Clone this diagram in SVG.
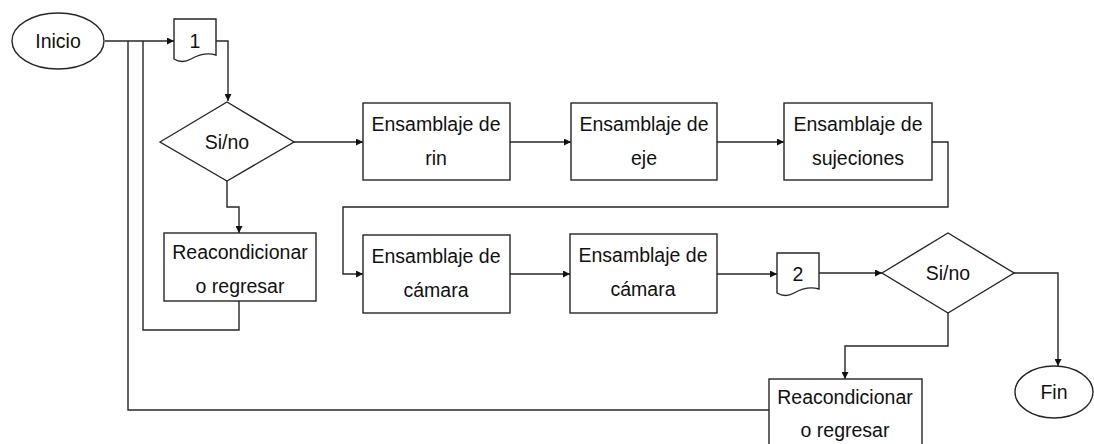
<svg xmlns="http://www.w3.org/2000/svg" width="1094" height="444" viewBox="0 0 1094 444">
<style>
.s{fill:#fff;stroke:#262626;stroke-width:1.4}
.c{fill:none;stroke:#262626;stroke-width:1.4}
.t{font-family:"Liberation Sans",Arial,sans-serif;font-size:19.5px;fill:#111;text-anchor:middle}
</style>
<defs>
<marker id="a" viewBox="0 0 10 10" refX="10" refY="5" markerWidth="7" markerHeight="7" markerUnits="userSpaceOnUse" orient="auto">
<path d="M0,0 L10,5 L0,10 Z" fill="#111"/>
</marker>
</defs>
<rect width="1094" height="444" fill="#fff"/>
<g id="connectors">
<path class="c" d="M105,41 H174" marker-end="url(#a)"/>
<path class="c" d="M128,41 V410 H769"/>
<path class="c" d="M143,41 V330 H239 V301"/>
<path class="c" d="M216,41 H228 V101" marker-end="url(#a)"/>
<path class="c" d="M294,142 H363" marker-end="url(#a)"/>
<path class="c" d="M227,181 V207 H239 V233" marker-end="url(#a)"/>
<path class="c" d="M510,142 H571" marker-end="url(#a)"/>
<path class="c" d="M717,142 H784" marker-end="url(#a)"/>
<path class="c" d="M932,142 H948 V207 H343 V274 H363" marker-end="url(#a)"/>
<path class="c" d="M510,274 H570" marker-end="url(#a)"/>
<path class="c" d="M717,274 H777" marker-end="url(#a)"/>
<path class="c" d="M819,273 H882" marker-end="url(#a)"/>
<path class="c" d="M948,313 V346 H845 V379" marker-end="url(#a)"/>
<path class="c" d="M1014,273 H1058 V366" marker-end="url(#a)"/>
</g>
<g id="inicio"><ellipse class="s" cx="58" cy="41" rx="46" ry="28"/><text class="t" x="58" y="48">Inicio</text></g>
<g id="doc1"><path class="s" d="M174,19 H216 V55 C206,52 198,55 191,59 C184,63 179,62 174,59 Z"/><text class="t" x="195" y="48">1</text></g>
<g id="dec1"><path class="s" d="M160,142 L227,102 L294,142 L227,181 Z"/><text class="t" x="227" y="149">Si/no</text></g>
<g id="reac1"><rect class="s" x="164" y="233" width="152" height="68"/><text class="t" x="240" y="259">Reacondicionar</text><text class="t" x="240" y="293">o regresar</text></g>
<g id="rin"><rect class="s" x="363" y="103" width="147" height="77"/><text class="t" x="436" y="131">Ensamblaje de</text><text class="t" x="436" y="165">rin</text></g>
<g id="eje"><rect class="s" x="571" y="103" width="146" height="77"/><text class="t" x="644" y="131">Ensamblaje de</text><text class="t" x="644" y="165">eje</text></g>
<g id="sujeciones"><rect class="s" x="784" y="103" width="148" height="77"/><text class="t" x="858" y="131">Ensamblaje de</text><text class="t" x="858" y="165">sujeciones</text></g>
<g id="camara1"><rect class="s" x="363" y="235" width="147" height="78"/><text class="t" x="436" y="263">Ensamblaje de</text><text class="t" x="436" y="297">cámara</text></g>
<g id="camara2"><rect class="s" x="570" y="234" width="147" height="79"/><text class="t" x="643" y="262">Ensamblaje de</text><text class="t" x="643" y="296">cámara</text></g>
<g id="doc2"><path class="s" d="M777,253 H819 V289 C809,286 801,289 794,293 C787,297 782,296 777,293 Z"/><text class="t" x="798" y="281">2</text></g>
<g id="dec2"><path class="s" d="M882,273 L948,233 L1014,273 L948,313 Z"/><text class="t" x="948" y="280">Si/no</text></g>
<g id="reac2"><rect class="s" x="769" y="379" width="153" height="80"/><text class="t" x="845" y="404">Reacondicionar</text><text class="t" x="845" y="437">o regresar</text></g>
<g id="fin"><ellipse class="s" cx="1054" cy="392" rx="39" ry="26"/><text class="t" x="1054" y="399">Fin</text></g>
</svg>
